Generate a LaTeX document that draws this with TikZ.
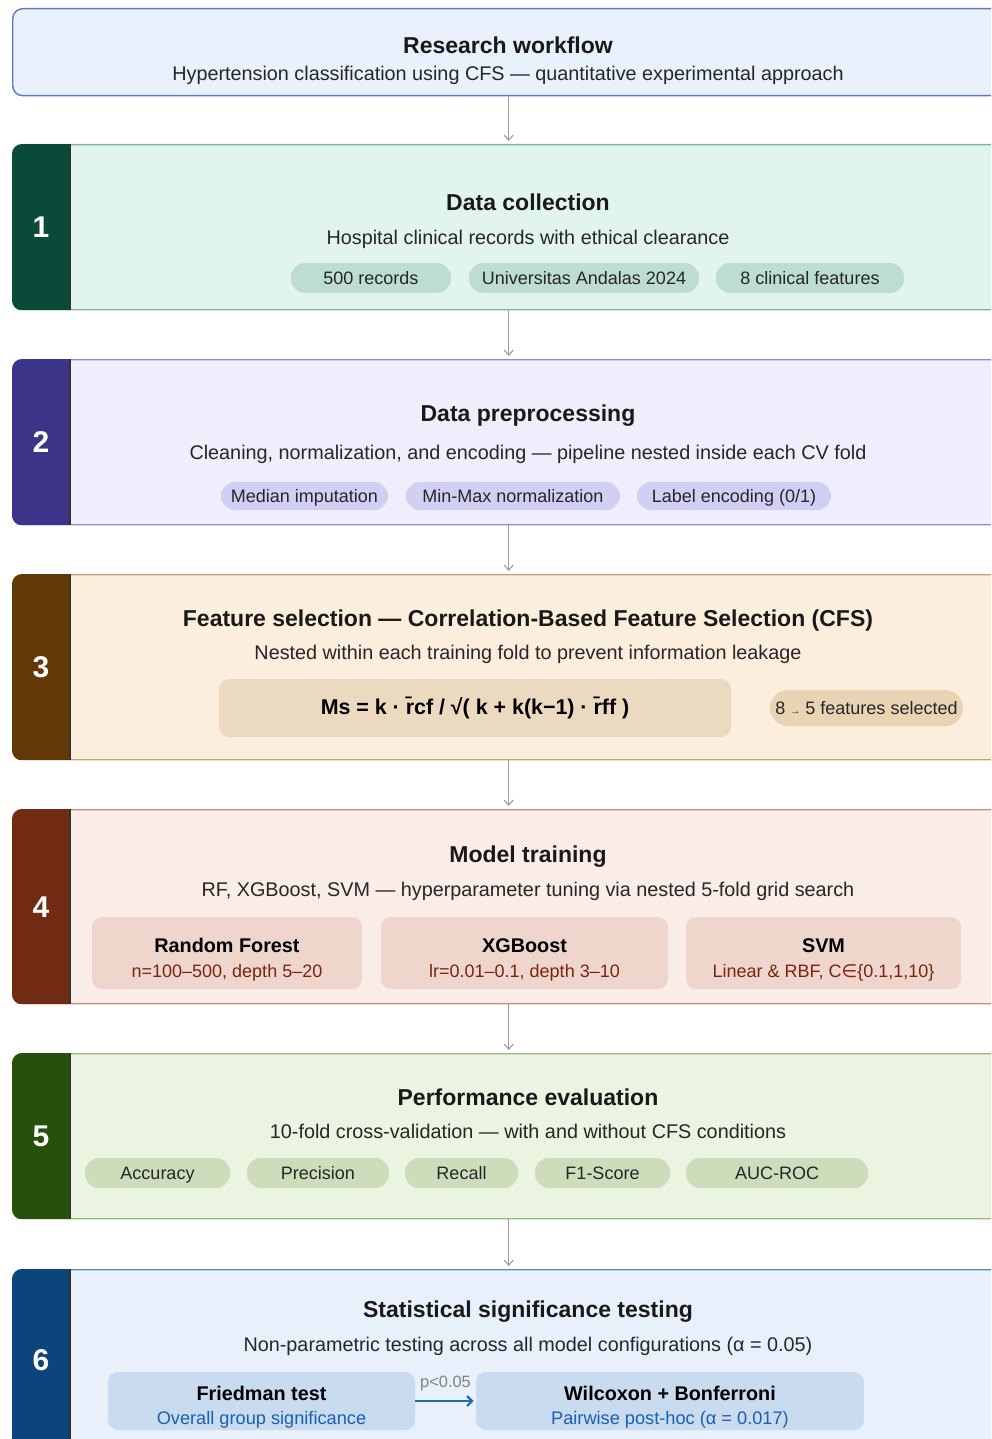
\documentclass[tikz,border=0pt]{standalone}
\usepackage{fontspec}
\setmainfont{Liberation Sans}
\newfontfamily\symfont{DejaVu Sans}
\usepackage{tikz}
\usetikzlibrary{arrows.meta, positioning, calc}
\definecolor{topfill}{HTML}{E9F2FC}
\definecolor{topline}{HTML}{5B79C2}
\definecolor{tabA}{HTML}{0A4A38}
\definecolor{bodyA}{HTML}{E1F5EE}
\definecolor{lineA}{HTML}{7DB3A2}
\definecolor{pillA}{HTML}{BDDDD3}
\definecolor{tabB}{HTML}{3C3489}
\definecolor{bodyB}{HTML}{EEEEFC}
\definecolor{lineB}{HTML}{8F89D6}
\definecolor{pillB}{HTML}{D2CFF5}
\definecolor{tabC}{HTML}{633806}
\definecolor{bodyC}{HTML}{FBEEDC}
\definecolor{lineC}{HTML}{C9A070}
\definecolor{boxC}{HTML}{EBDAC0}
\definecolor{pillC}{HTML}{E8D4B2}
\definecolor{tabD}{HTML}{712B13}
\definecolor{bodyD}{HTML}{FAECE7}
\definecolor{lineD}{HTML}{D08A78}
\definecolor{boxD}{HTML}{EFD6CD}
\definecolor{paramD}{HTML}{7A2410}
\definecolor{tabE}{HTML}{27500A}
\definecolor{bodyE}{HTML}{EBF3E1}
\definecolor{lineE}{HTML}{97B878}
\definecolor{pillE}{HTML}{CDDDBC}
\definecolor{tabF}{HTML}{0C447C}
\definecolor{bodyF}{HTML}{E8F1FB}
\definecolor{lineF}{HTML}{5A86C4}
\definecolor{boxF}{HTML}{C9DBEE}
\definecolor{subF}{HTML}{1C5FAE}
\definecolor{arrowF}{HTML}{1F6BB0}

\begin{document}
\begin{tikzpicture}[
    x=0.5pt, y=-0.5pt,
    stagebox/.style={draw, line width=0.7pt, rounded corners=5pt, anchor=north west,
        minimum width=496pt, inner sep=0pt},
    tabnum/.style={text=white, font=\fontsize{15}{17}\selectfont\bfseries},
    headline/.style={font=\fontsize{11.5}{13}\selectfont\bfseries, text=black!90},
    subline/.style={font=\fontsize{9.9}{12}\selectfont, text=black!85},
    pill/.style={rounded corners=7pt, minimum height=15pt, inner sep=0pt,
        text height=8pt, text depth=1.3pt,
        font=\fontsize{9}{10}\selectfont, text=black!85},
    modelbox/.style={rounded corners=5pt, inner sep=0pt, align=center,
        font=\fontsize{9}{12.5}\selectfont},
    flow/.style={-{Straight Barb[length=2.5pt, width=4.5pt]}, gray!75, line width=0.6pt,
        shorten >=1.5pt},
]
    \useasboundingbox (0,0) rectangle (991,1439);
    \clip (0,0) rectangle (991,1439);

    % header
    \node[stagebox, fill=topfill, draw=topline, minimum height=43.5pt] (top) at (12,8) {};
    \node[headline] (toptitle) at (508,45) {Research workflow};
    \node[subline] (topsub) at (508,75) {Hypertension classification using CFS — quantitative experimental approach};

    % stage boxes
    \node[stagebox, fill=bodyA, draw=lineA, minimum height=82.5pt] (s1) at (12,144) {};
    \node[stagebox, fill=bodyB, draw=lineB, minimum height=82.5pt] (s2) at (12,359) {};
    \node[stagebox, fill=bodyC, draw=lineC, minimum height=92.5pt] (s3) at (12,574) {};
    \node[stagebox, fill=bodyD, draw=lineD, minimum height=97pt] (s4) at (12,809) {};
    \node[stagebox, fill=bodyE, draw=lineE, minimum height=82.5pt] (s5) at (12,1053) {};
    \node[stagebox, fill=bodyF, draw=lineF, minimum height=90pt] (s6) at (12,1269) {};

    % coloured number tabs
    \foreach \s/\c/\n in {s1/tabA/1, s2/tabB/2, s3/tabC/3, s4/tabD/4, s5/tabE/5, s6/tabF/6} {
        \begin{scope}
            \clip[rounded corners=5pt] (\s.north west) rectangle (\s.south east);
            \fill[\c] (\s.north west) rectangle ([xshift=29pt]\s.south west);
        \end{scope}
        \draw[black!80, line width=0.6pt] ([xshift=29pt]\s.north west) -- ([xshift=29pt]\s.south west);
        \node[tabnum] (\s num) at ($(\s.west)+(29,0)$) {\n};
    }

    % flow arrows
    \draw[flow] (top) -- (s1);
    \draw[flow] (s1) -- (s2);
    \draw[flow] (s2) -- (s3);
    \draw[flow] (s3) -- (s4);
    \draw[flow] (s4) -- (s5);
    \draw[flow] (s5) -- (s6);

    % 1 data collection
    \node[headline] (s1title) at (528,202) {Data collection};
    \node[subline] (s1sub) at (528,239) {Hospital clinical records with ethical clearance};
    \node[pill, fill=pillA, minimum width=80pt] (records) at (371,278) {500 records};
    \node[pill, fill=pillA, minimum width=115pt] (unand) at (584,278) {Universitas Andalas 2024};
    \node[pill, fill=pillA, minimum width=94pt] (features) at (810,278) {8 clinical features};

    % 2 preprocessing
    \node[headline] (s2title) at (528,416) {Data preprocessing};
    \node[subline] (s2sub) at (528,454) {Cleaning, normalization, and encoding — pipeline nested inside each CV fold};
    \node[pill, fill=pillB, minimum width=83.5pt, minimum height=14pt] (median) at (304.5,496) {Median imputation};
    \node[pill, fill=pillB, minimum width=107pt, minimum height=14pt] (minmax) at (513,496) {Min-Max normalization};
    \node[pill, fill=pillB, minimum width=97pt, minimum height=14pt] (labelenc) at (734,496) {Label encoding (0/1)};

    % 3 feature selection
    \node[headline] (s3title) at (528,621) {Feature selection — Correlation-Based Feature Selection (CFS)};
    \node[subline] (s3sub) at (528,654) {Nested within each training fold to prevent information leakage};
    \node[modelbox, fill=boxC, minimum width=256pt, minimum height=29pt,
        font=\fontsize{10.7}{12}\selectfont\bfseries] (merit) at (475,708)
        {\rule{0pt}{9pt}Ms = k · \=rcf / √( k + k(k−1) · \=rff )};
    \node[pill, fill=pillC, minimum width=96.5pt, minimum height=18pt, rounded corners=9pt,
        font=\fontsize{9}{10}\selectfont]
        (selected) at (866.5,708) {8 {\fontsize{5}{6}\selectfont →} 5 features selected};

    % 4 model training
    \node[headline] (s4title) at (528,857) {Model training};
    \node[subline] (s4sub) at (528,891) {RF, XGBoost, SVM — hyperparameter tuning via nested 5-fold grid search};
    \node[modelbox, fill=boxD, minimum width=135pt, minimum height=36pt] (rf) at (227,953)
        {\rule{0pt}{14pt}{\fontsize{9.9}{12}\selectfont\bfseries Random Forest}\\{\color{paramD}n=100–500, depth 5–20}};
    \node[modelbox, fill=boxD, minimum width=143.5pt, minimum height=36pt] (xgb) at (524.5,953)
        {\rule{0pt}{14pt}{\fontsize{9.9}{12}\selectfont\bfseries XGBoost}\\{\color{paramD}lr=0.01–0.1, depth 3–10}};
    \node[modelbox, fill=boxD, minimum width=137.5pt, minimum height=36pt] (svm) at (823.5,953)
        {\rule{0pt}{14pt}{\fontsize{9.9}{12}\selectfont\bfseries SVM}\\{\color{paramD}Linear \& RBF, C{\symfont ∈}\{0.1,1,10\}}};

    % 5 evaluation
    \node[headline] (s5title) at (528,1097) {Performance evaluation};
    \node[subline] (s5sub) at (528,1131) {10-fold cross-validation — with and without CFS conditions};
    \node[pill, fill=pillE, minimum width=72.5pt] (acc) at (157.5,1173) {Accuracy};
    \node[pill, fill=pillE, minimum width=71pt] (prec) at (318,1173) {Precision};
    \node[pill, fill=pillE, minimum width=56.5pt] (rec) at (461.5,1173) {Recall};
    \node[pill, fill=pillE, minimum width=67.5pt] (fone) at (602.5,1173) {F1-Score};
    \node[pill, fill=pillE, minimum width=91pt] (auc) at (777,1173) {AUC-ROC};

    % 6 significance testing
    \node[headline] (s6title) at (528,1312) {Statistical significance testing};
    \node[subline] (s6sub) at (528,1346) {Non-parametric testing across all model configurations (α = 0.05)};
    \node[modelbox, fill=boxF, minimum width=153.5pt, minimum height=29pt, font=\fontsize{9.1}{12}\selectfont]
        (friedman) at (261.5,1401)
        {\rule{0pt}{13pt}{\fontsize{9.9}{12}\selectfont\bfseries Friedman test}\\{\color{subF}Overall group significance}};
    \node[modelbox, fill=boxF, minimum width=194pt, minimum height=29pt, font=\fontsize{9.1}{12}\selectfont]
        (wilcoxon) at (670,1401)
        {\rule{0pt}{13pt}{\fontsize{9.9}{12}\selectfont\bfseries Wilcoxon + Bonferroni}\\{\color{subF}Pairwise post-hoc (α = 0.017)}};
    \draw[-{Straight Barb[length=2.5pt, width=5pt]}, arrowF, line width=1.1pt, shorten >=1pt]
        (friedman) -- node[above=1pt, font=\fontsize{8.2}{9}\selectfont, text=gray] {p<0.05} (wilcoxon);
\end{tikzpicture}
\end{document}
